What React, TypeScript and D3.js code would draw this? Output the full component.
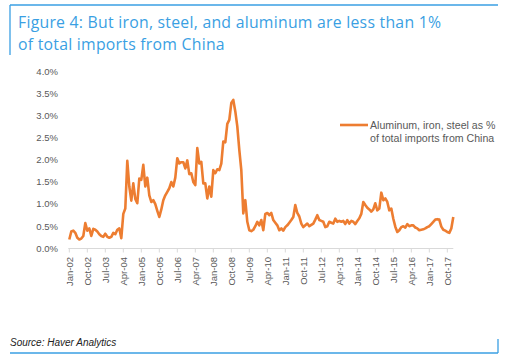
import React from "react";
import * as d3 from "d3";

const values: number[] = [
  0.20, 0.38, 0.40, 0.35, 0.24, 0.20, 0.22, 0.28, 0.57, 0.40, 0.45, 0.28,
  0.44, 0.42, 0.38, 0.32, 0.28, 0.26, 0.33, 0.26, 0.24, 0.26, 0.35, 0.32,
  0.42, 0.45, 0.23, 0.78, 0.90, 1.98, 1.40, 1.08, 1.47, 1.12, 1.02, 1.58,
  1.55, 1.89, 1.40, 1.60, 1.20, 1.05, 1.09, 1.00, 0.85, 0.71, 0.88, 1.09,
  1.20, 1.28, 1.36, 1.50, 1.40, 1.60, 2.04, 1.92, 1.95, 1.95, 1.81, 1.99,
  1.68, 1.70, 1.50, 1.43, 2.27, 1.92, 1.96, 1.47, 1.47, 1.13, 1.40, 1.17,
  1.77, 1.70, 1.79, 1.77, 1.92, 2.42, 2.40, 2.82, 2.91, 3.29, 3.36, 3.10,
  2.76, 2.23, 1.77, 0.79, 1.09, 0.60, 0.41, 0.39, 0.42, 0.50, 0.60, 0.52,
  0.64, 0.41, 0.78, 0.80, 0.75, 0.80, 0.64, 0.58, 0.52, 0.41, 0.45, 0.40,
  0.48, 0.52, 0.58, 0.64, 0.71, 0.98, 0.80, 0.72, 0.56, 0.48, 0.52, 0.56,
  0.50, 0.53, 0.56, 0.65, 0.75, 0.64, 0.62, 0.60, 0.48, 0.50, 0.60, 0.58,
  0.56, 0.67, 0.60, 0.62, 0.60, 0.62, 0.55, 0.64, 0.56, 0.62, 0.60, 0.55,
  0.62, 0.68, 0.78, 1.05, 0.98, 0.92, 0.88, 0.83, 0.88, 1.02, 0.86, 0.90,
  1.26, 1.09, 1.13, 1.05, 0.86, 0.90, 0.67, 0.49, 0.37, 0.41, 0.48, 0.50,
  0.47, 0.55, 0.50, 0.52, 0.52, 0.47, 0.45, 0.41, 0.42, 0.43, 0.45, 0.48,
  0.50, 0.55, 0.60, 0.65, 0.66, 0.65, 0.49, 0.42, 0.40, 0.37, 0.35, 0.45,
  0.71,
];
const tickLabels: string[] = [
  "Jan-02", "Oct-02", "Jul-03", "Apr-04", "Jan-05", "Oct-05", "Jul-06", "Apr-07",
  "Jan-08", "Oct-08", "Jul-09", "Apr-10", "Jan-11", "Oct-11", "Jul-12", "Apr-13",
  "Jan-14", "Oct-14", "Jul-15", "Apr-16", "Jan-17", "Oct-17",
];
const yTicks: number[] = [0, 0.5, 1, 1.5, 2, 2.5, 3, 3.5, 4];
const seriesName = ["Aluminum, iron, steel as %", "of total imports from China"];
const titleLines = ["Figure 4: But iron, steel, and aluminum are less than 1%", "of total imports from China"];
const sourceText = "Source: Haver Analytics";

const blue = "#3A9FE3";
const orange = "#ED7D31";
const grey = "#595959";

export default function App() {
  const W = 509, H = 361;
  const x = d3.scaleLinear().domain([0, values.length - 1]).range([69.3, 453.3]);
  const y = d3.scaleLinear().domain([0, 4]).range([248.3, 71.7]);
  const line = d3.line<number>().x((_, i) => x(i)).y((d) => y(d)).curve(d3.curveLinear);
  const tickIdx = tickLabels.map((_, i) => i * 9);
  return (
    <svg width={W} height={H} style={{ position: "absolute", left: 0, top: 0, background: "#fff" }}
      fontFamily="'Liberation Sans', Arial, sans-serif">
      <line x1={10} x2={498} y1={5} y2={5} stroke={blue} strokeWidth={1.3} />
      <line x1={10} x2={10} y1={5} y2={55} stroke={blue} strokeWidth={1.3} />
      <line x1={10} x2={498} y1={353} y2={353} stroke={blue} strokeWidth={1.3} />
      <line x1={498} x2={498} y1={339} y2={353} stroke={blue} strokeWidth={1.3} />
      {titleLines.map((t, i) => (
        <text key={i} x={18} y={28 + i * 21.5} fill={blue} fontSize={15.8} letterSpacing={0.25}
          fontFamily="'Open Sans', sans-serif">{t}</text>
      ))}
      {yTicks.map((t) => (
        <text key={t} x={58} y={y(t)} dy="0.35em" textAnchor="end" fontSize={9.5} fill={grey}>
          {t.toFixed(1) + "%"}
        </text>
      ))}
      <line x1={x(0) - 1} x2={x(values.length - 1)} y1={248.5} y2={248.5} stroke="#D9D9D9" strokeWidth={1} />
      {tickIdx.map((ti, i) => (
        <g key={i}>
          <line x1={x(ti)} x2={x(ti)} y1={248.5} y2={252.5} stroke="#D9D9D9" strokeWidth={1} />
          <text transform={`translate(${x(ti)},257) rotate(-90)`} dy="0.35em" textAnchor="end" fontSize={9.5} fill={grey}>
            {tickLabels[i]}
          </text>
        </g>
      ))}
      <path d={line(values) || ""} fill="none" stroke={orange} strokeWidth={2.6} strokeLinejoin="round" />
      <line x1={340} x2={368} y1={125} y2={125} stroke={orange} strokeWidth={2.6} />
      {seriesName.map((s, i) => (
        <text key={i} x={370} y={129 + i * 13} fontSize={10.6} fill={grey}>{s}</text>
      ))}
      <text x={10} y={346} fontSize={10} fontStyle="italic" fill="#222">{sourceText}</text>
    </svg>
  );
}
